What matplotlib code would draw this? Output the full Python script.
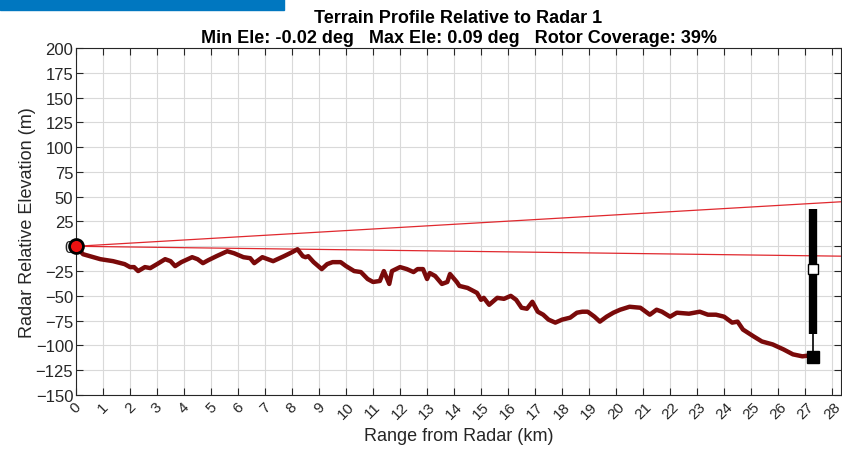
import matplotlib
matplotlib.use("Agg")
import matplotlib.pyplot as plt
from matplotlib.patches import Rectangle
import numpy as np

plt.rcParams['font.family'] = ['Liberation Sans', 'DejaVu Sans']

# Terrain profile: range (km) and elevation relative to radar (m)
range_km = [0.0, 0.26, 0.9, 1.37, 1.8, 2.0, 2.15, 2.3, 2.55, 2.75, 3.0, 3.3, 3.5,
            3.67, 3.9, 4.3, 4.5, 4.7, 4.9, 5.2, 5.6, 5.85, 6.2, 6.45, 6.6, 6.9,
            7.3, 7.7, 8.0, 8.2, 8.4, 8.5, 8.6, 8.8, 9.1, 9.3, 9.5, 9.8, 10.0,
            10.3, 10.55, 10.8, 11.0, 11.25, 11.4, 11.6, 11.7, 12.0, 12.25, 12.5,
            12.65, 12.85, 13.0, 13.1, 13.3, 13.55, 13.75, 13.85, 14.1, 14.2,
            14.5, 14.85, 15.0, 15.1, 15.3, 15.6, 15.85, 16.1, 16.3, 16.5, 16.7,
            16.9, 17.1, 17.3, 17.5, 17.75, 18.0, 18.3, 18.55, 18.75, 18.95, 19.2,
            19.4, 19.65, 19.9, 20.15, 20.5, 20.9, 21.25, 21.5, 21.7, 22.0, 22.25,
            22.7, 23.1, 23.4, 23.7, 24.0, 24.3, 24.5, 24.7, 25.1, 25.4, 25.8,
            26.2, 26.55, 26.9, 27.2, 27.3]
terrain_m = [0, -8, -13, -15, -18, -21, -21, -25, -21, -22, -18, -13, -15,
             -20, -16, -11, -13, -17, -14, -10, -5, -7, -11, -12, -17, -11,
             -15, -10, -6, -3, -10, -11, -10, -16, -23, -18, -16, -16, -20,
             -25, -26, -33, -36, -35, -25, -38, -25, -21, -23, -26,
             -23, -23, -33, -27, -30, -38, -36, -28, -36, -40,
             -42, -47, -54, -52, -59, -52, -53, -50, -54, -62, -63,
             -56, -66, -69, -74, -77, -74, -72, -67, -66, -66, -71,
             -76, -71, -67, -64, -61, -62, -69, -64, -66, -71, -67,
             -68, -66, -69, -69, -71, -77, -76, -84, -91, -96, -99,
             -104, -109, -111, -110, -112]

# Radar beam limits (elevation at the far edge of the plot)
beam_end_km = 28.4
beam_upper_m = 45
beam_lower_m = -10

# Turbine geometry
turbine_km = 27.3
tower_base_m = -112
hub_m = -23
rotor_top_m = 38
rotor_bottom_m = -88

fig = plt.figure(figsize=(8.42, 4.52), dpi=100)
ax = fig.add_axes([0.0903, 0.1239, 0.9085, 0.7677])

# Header band in the figure corner
fig.patches.append(Rectangle((0, 1 - 11 / 452), 284 / 842, 11 / 452,
                             transform=fig.transFigure, color='#0077C0',
                             zorder=0))

ax.plot([0, beam_end_km], [0, beam_upper_m], color='#e0282e', lw=0.9, zorder=3)
ax.plot([0, beam_end_km], [0, beam_lower_m], color='#e0282e', lw=0.9, zorder=3)

ax.plot(range_km, terrain_m, color='#7a0a0a', lw=3.2, solid_joinstyle='round',
        zorder=4)

# Turbine: tower, rotor span, hub and base
ax.plot([turbine_km, turbine_km], [tower_base_m, rotor_bottom_m], color='black',
        lw=1.2, zorder=5)
ax.plot([turbine_km, turbine_km], [rotor_bottom_m, rotor_top_m], color='black',
        lw=6, solid_capstyle='butt', zorder=5)
ax.plot([turbine_km], [tower_base_m], marker='s', ms=8.5, color='black', zorder=6)
ax.plot([turbine_km], [hub_m], marker='s', ms=7, mfc='white', mec='black',
        mew=1.0, zorder=6)

# Radar location
ax.plot([0], [0], marker='o', ms=10, mfc='#ee1111', mec='black', mew=2,
        zorder=7, clip_on=False)

ax.set_xlim(0, 28.33)
ax.set_ylim(-150, 200)
ax.set_xticks(np.arange(0, 29, 1))
ax.set_yticks(np.arange(-150, 201, 25))
ax.set_xticklabels([str(i) for i in range(29)], rotation=45, ha='center',
                   fontsize=11, color='#262626')
ax.tick_params(axis='y', labelsize=12, labelcolor='#262626')
ax.tick_params(direction='in', top=True, right=True, length=5, width=0.8,
               color='#262626', pad=2)
ax.tick_params(axis='x', pad=3)
ax.grid(True, color='#d9d9d9', lw=0.8)
ax.set_axisbelow(True)
for s in ax.spines.values():
    s.set_color('#262626')
    s.set_linewidth(0.8)

ax.set_xlabel('Range from Radar (km)', fontsize=13, color='#262626', labelpad=4)
ax.set_ylabel('Radar Relative Elevation (m)', fontsize=13, color='#262626',
              labelpad=0)
ax.set_title('Terrain Profile Relative to Radar 1\n'
             'Min Ele: -0.02 deg   Max Ele: 0.09 deg   Rotor Coverage: 39%',
             fontsize=13, fontweight='bold', linespacing=1.3, pad=4)

fig.savefig('out.png', dpi=100)
